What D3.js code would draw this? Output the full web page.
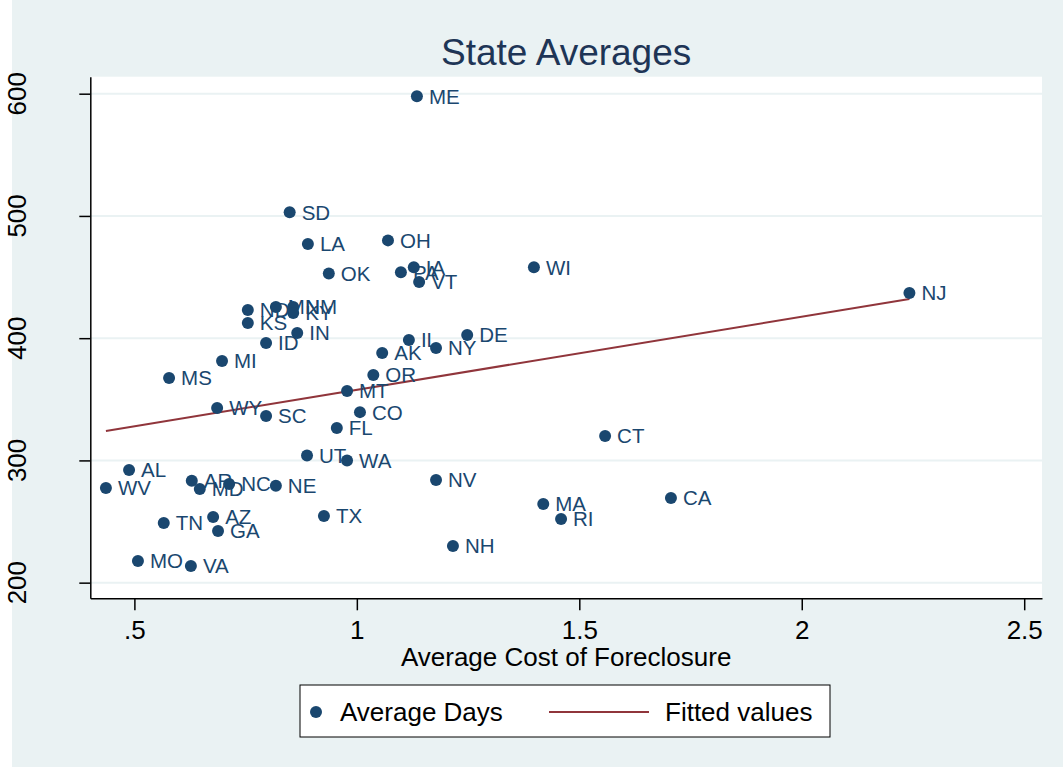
<!DOCTYPE html>
<html>
<head>
<meta charset="utf-8">
<script src="https://cdn.jsdelivr.net/npm/d3@7"></script>
<style>
  body { margin: 0; background: #eaf2f3; }
  svg { display: block; font-family: "Liberation Sans", Arial, sans-serif; }
</style>
</head>
<body>
<div id="chart"></div>
<script>
// state labels, average cost (x) and average days (y)
const states = ['ME','SD','LA','OH','OK','IA','PA','VT','WI','NJ','ND','MN','NM','KY','KS','IN','ID','MI','MS','IL',
  'NY','DE','AK','OR','MT','CO','FL','CT','WY','SC','UT','WA','AL','WV','AR','NC','MD','NE','NV','MA',
  'CA','RI','TN','AZ','GA','TX','NH','MO','VA'];
const avgCost = [1.135,0.849,0.890,1.070,0.937,1.128,1.099,1.140,1.398,2.242,0.755,0.818,0.857,0.857,0.755,0.866,0.796,0.697,0.578,1.117,
  1.178,1.248,1.057,1.037,0.978,1.007,0.955,1.558,0.686,0.796,0.888,0.978,0.488,0.436,0.629,0.713,0.647,0.818,1.178,1.419,
  1.706,1.459,0.566,0.677,0.688,0.926,1.216,0.508,0.627];
const avgDays = [598,503,477,480,453,458,454,446,458,437,423,425.5,425.5,420.6,412.4,404.2,396,381.3,367.4,398.5,
  391.9,402.6,387.8,369.8,356.7,339.5,326.5,320,342.9,336.3,304,299.9,292.2,277.5,283.3,280.8,276.7,279.2,284,264.4,
  269.3,252.1,248.8,253.8,242.3,254.5,230,217.8,213.6];

// fitted line end points
const fitX = [0.436, 2.242];
const fitY = [324.1, 432.0];

const xTicks = [0.5, 1, 1.5, 2, 2.5];
const yTicks = [200, 300, 400, 500, 600];

const W = 1063, H = 767;
const plot = { left: 90.3, right: 1042, top: 76.7, bottom: 598.3 };
const NAVY = '#1a476f', MAROON = '#90353b';

const svg = d3.select('#chart').append('svg')
  .attr('width', W).attr('height', H);

svg.append('rect').attr('width', W).attr('height', H).attr('fill', '#eaf2f3');
svg.append('rect').attr('width', 12).attr('height', H).attr('fill', '#ffffff');

const x = d3.scaleLinear().domain([0.4009, 2.540]).range([plot.left, plot.right]);
const y = d3.scaleLinear().domain([187.2, 613.9]).range([plot.bottom, plot.top]);

// plot region
svg.append('rect')
  .attr('x', plot.left).attr('y', plot.top)
  .attr('width', plot.right - plot.left).attr('height', plot.bottom - plot.top)
  .attr('fill', '#ffffff');

// grid lines
svg.append('g').selectAll('line')
  .data(yTicks)
  .join('line')
  .attr('x1', plot.left).attr('x2', plot.right)
  .attr('y1', d => y(d)).attr('y2', d => y(d))
  .attr('stroke', '#eaf2f3').attr('stroke-width', 2);

// title
svg.append('text')
  .attr('x', (plot.left + plot.right) / 2).attr('y', 65)
  .attr('text-anchor', 'middle')
  .attr('font-size', 37)
  .attr('fill', '#1e3556')
  .text('State Averages');

// x axis
const fmt = d => d < 1 ? String(d).replace(/^0/, '') : String(d);
const xAxis = svg.append('g')
  .attr('transform', `translate(0,${plot.bottom})`)
  .call(d3.axisBottom(x).tickValues(xTicks).tickFormat(fmt).tickSize(12).tickSizeOuter(0).tickPadding(10));
xAxis.select('.domain').attr('stroke', '#000').attr('stroke-width', 1.5);
xAxis.selectAll('.tick line').attr('stroke', '#000').attr('stroke-width', 1.5);
xAxis.selectAll('.tick text').attr('font-size', 26).attr('font-family', '"Liberation Sans", Arial, sans-serif').attr('fill', '#000');

svg.append('text')
  .attr('x', (plot.left + plot.right) / 2).attr('y', 666)
  .attr('text-anchor', 'middle')
  .attr('font-size', 26)
  .text('Average Cost of Foreclosure');

// y axis
const yAxis = svg.append('g')
  .attr('transform', `translate(${plot.left},0)`)
  .call(d3.axisLeft(y).tickValues(yTicks).tickSize(11).tickSizeOuter(0).tickFormat(d => ''));
yAxis.select('.domain').attr('stroke', '#000').attr('stroke-width', 1.5);
yAxis.selectAll('.tick line').attr('stroke', '#000').attr('stroke-width', 1.5);

svg.append('g').selectAll('text')
  .data(yTicks)
  .join('text')
  .attr('transform', d => `translate(26,${y(d)}) rotate(-90)`)
  .attr('text-anchor', 'middle')
  .attr('font-size', 26)
  .text(d => d);

// fitted line
const fitPts = fitX.map((v, i) => [v, fitY[i]]);
svg.append('path')
  .datum(fitPts)
  .attr('fill', 'none')
  .attr('stroke', MAROON)
  .attr('stroke-width', 2)
  .attr('d', d3.line().x(d => x(d[0])).y(d => y(d[1])));

// points + labels
const pts = states.map((s, i) => ({ s, cx: avgCost[i], dy: avgDays[i] }));
const g = svg.append('g');
g.selectAll('circle')
  .data(pts)
  .join('circle')
  .attr('cx', d => x(d.cx)).attr('cy', d => y(d.dy))
  .attr('r', 6)
  .attr('fill', NAVY);
g.selectAll('text')
  .data(pts)
  .join('text')
  .attr('x', d => x(d.cx) + 12).attr('y', d => y(d.dy))
  .attr('dy', '0.36em')
  .attr('font-size', 20.5)
  .attr('fill', NAVY)
  .text(d => d.s);

// legend
const lg = svg.append('g');
lg.append('rect')
  .attr('x', 300).attr('y', 685).attr('width', 530).attr('height', 52)
  .attr('fill', '#fff').attr('stroke', '#000').attr('stroke-width', 1);
lg.append('circle').attr('cx', 316).attr('cy', 712).attr('r', 6).attr('fill', NAVY);
lg.append('text').attr('x', 340).attr('y', 721).attr('font-size', 26).text('Average Days');
lg.append('line').attr('x1', 549).attr('x2', 649).attr('y1', 712).attr('y2', 712)
  .attr('stroke', MAROON).attr('stroke-width', 2);
lg.append('text').attr('x', 665).attr('y', 721).attr('font-size', 26).text('Fitted values');
</script>
</body>
</html>
